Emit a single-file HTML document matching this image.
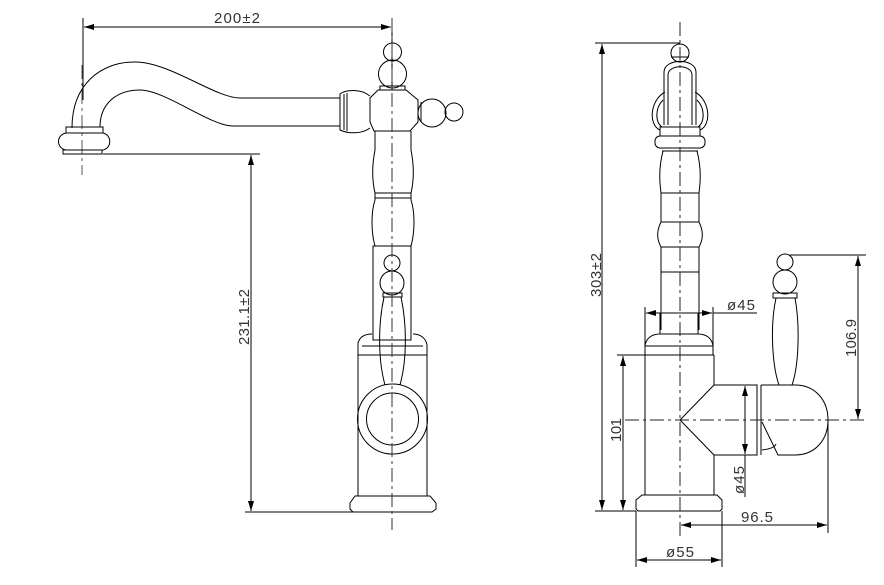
<!DOCTYPE html>
<html><head><style>html,body{margin:0;padding:0;background:#fff}</style></head><body>
<svg width="884" height="580" viewBox="0 0 884 580" xmlns="http://www.w3.org/2000/svg" font-family="Liberation Sans, sans-serif">
<defs>
<marker id="a" viewBox="0 0 10 6" refX="10" refY="3" markerWidth="10" markerHeight="6" orient="auto-start-reverse" markerUnits="userSpaceOnUse"><path d="M0,0 L10,3 L0,6 z" fill="#000"/></marker>
</defs>
<g fill="none" stroke="#000" stroke-width="1">
<line x1="83" y1="18" x2="83" y2="100"/>
<line x1="392" y1="18" x2="392" y2="90"/>
<line x1="84" y1="27" x2="391" y2="27" marker-start="url(#a)" marker-end="url(#a)"/>
<line x1="82" y1="65" x2="82" y2="175" stroke="#555" stroke-dasharray="14,4,3,4"/>
<path d="M72,128 C72,85 100,62 135,62 C170,62 215,98 240,98 L340,98"/>
<path d="M100,127 C100,105 115,90 140,90 C165,90 210,126 233,126 L340,126"/>
<rect x="66" y="127" width="37" height="6"/>
<path d="M66,133 L103,133 C112,135 112,148 103,150 L66,150 C56,148 56,135 66,133 z"/>
<rect x="63" y="150" width="39" height="4"/>
<line x1="103" y1="154" x2="260" y2="154"/>
<line x1="251" y1="155" x2="251" y2="511" marker-start="url(#a)" marker-end="url(#a)"/>
<line x1="245" y1="512" x2="355" y2="512"/>
<circle cx="392.5" cy="52" r="9"/>
<circle cx="392.5" cy="74" r="14"/>
<rect x="380" y="86" width="25" height="4"/>
<path d="M378,90 L406,90 L418,100 L418,122 L410,131 L374,131 L370,122 L370,98 z"/>
<path d="M370,96 C360,88 345,90 340,94 L340,130 C348,134 362,134 370,128"/>
<line x1="344" y1="94" x2="344" y2="130"/><line x1="347" y1="93" x2="347" y2="131"/>
<line x1="418" y1="100" x2="418" y2="122"/><line x1="421" y1="102" x2="421" y2="122"/>
<circle cx="432" cy="113" r="14"/>
<circle cx="454" cy="112" r="9"/>
<path d="M375,131 L375,150 C372,165 372,180 375,193 L375,200 C371,212 371,232 375,246 M411,131 L411,150 C414,165 414,180 411,193 L411,200 C415,212 415,232 411,246"/>
<line x1="375" y1="193" x2="411" y2="193"/><line x1="375" y1="198" x2="411" y2="198"/>
<rect x="373" y="246" width="38" height="94"/>
<circle cx="392" cy="263" r="8"/>
<circle cx="392" cy="283" r="12"/>
<rect x="383" y="293" width="19" height="4"/>
<path d="M384,297 C378,325 378,360 385,385 M401,297 C407,325 407,360 400,385"/>
<path d="M358,355 L358,343 C360,336 366,334 372,334 M413,334 C420,334 426,338 427,345 L427,355"/>
<line x1="362" y1="346" x2="423" y2="346"/>
<rect x="358" y="355" width="69" height="141"/>
<circle cx="392.5" cy="419" r="35"/>
<circle cx="392.5" cy="419" r="26"/>
<path d="M355,496 L430,496 L436,503 L436,509 L432,512 L353,512 L350,509 L350,503 z"/>
<line x1="392" y1="18" x2="392" y2="530" stroke="#333" stroke-dasharray="14,4,3,4"/>
<line x1="595" y1="43" x2="680" y2="43"/>
<line x1="602" y1="44" x2="602" y2="510" marker-start="url(#a)" marker-end="url(#a)"/>
<line x1="595" y1="511" x2="636" y2="511"/>
<circle cx="680" cy="53" r="9"/>
<line x1="671" y1="57" x2="689" y2="57"/>
<path d="M664,125 L664,72 C664,58 696,58 696,72 L696,125"/>
<path d="M668,125 L668,75 C668,64 692,64 692,75 L692,125"/>
<path d="M665,92 C650,100 648,125 660,130 M695,92 C710,100 712,125 700,130"/>
<path d="M663,100 C655,108 655,122 662,127 M697,100 C705,108 705,122 698,127"/>
<rect x="660" y="127" width="40" height="9"/>
<rect x="655" y="136" width="50" height="12" rx="5"/>
<path d="M662,151 L698,151 M663,151 C658,170 660,185 661,193 L661,222 C656,232 657,240 661,247 L661,330 M697,151 C702,170 700,185 699,193 L699,222 C704,232 703,240 699,247 L699,330"/>
<line x1="661" y1="193" x2="699" y2="193"/><line x1="661" y1="222" x2="699" y2="222"/>
<line x1="661" y1="247" x2="699" y2="247"/><line x1="661" y1="272" x2="699" y2="272"/>
<line x1="645" y1="307" x2="645" y2="355"/>
<line x1="713" y1="307" x2="713" y2="355"/>
<line x1="646" y1="313" x2="661" y2="313" marker-start="url(#a)"/>
<line x1="661" y1="313" x2="699" y2="313"/>
<line x1="699" y1="313" x2="712" y2="313" marker-end="url(#a)"/>
<line x1="713" y1="313" x2="757" y2="313"/>
<rect x="660" y="313" width="38" height="21"/>
<path d="M645,355 L645,346 C646,338 652,334 660,334 M698,334 C706,334 712,338 713,346 L713,355"/>
<line x1="645" y1="346" x2="713" y2="346"/>
<line x1="617" y1="355" x2="714" y2="355"/>
<line x1="623" y1="356" x2="623" y2="510" marker-start="url(#a)" marker-end="url(#a)"/>
<line x1="645" y1="355" x2="645" y2="495"/>
<path d="M714,355 L714,385 L757,385 L757,455 L714,455 L714,495"/>
<path d="M714,385 L680,420 L714,455"/>
<line x1="745" y1="386" x2="745" y2="454" marker-start="url(#a)" marker-end="url(#a)"/>
<line x1="745" y1="455" x2="745" y2="497"/>
<path d="M761,385 L761,455 M761,385 L795,385 C815,385 828,400 828,420 C828,440 815,455 795,455 L778,455 L762,422"/>
<path d="M762,450 C770,449 775,447 776,444"/>
<circle cx="785" cy="262" r="8"/>
<circle cx="785" cy="282" r="12"/>
<rect x="773" y="293" width="24" height="5"/>
<path d="M776,298 C770,325 772,365 779,385 M795,298 C800,325 799,365 792,385"/>
<line x1="790" y1="255" x2="866" y2="255"/>
<line x1="858" y1="256" x2="858" y2="419" marker-start="url(#a)" marker-end="url(#a)"/>
<line x1="625" y1="420" x2="866" y2="420" stroke="#222" stroke-dasharray="14,4,3,4"/>
<path d="M642,495 L717,495 L722,500 L722,509 L720,511 L638,511 L636,509 L636,500 z"/>
<line x1="828" y1="420" x2="828" y2="533"/>
<line x1="681" y1="525" x2="827" y2="525" marker-start="url(#a)" marker-end="url(#a)"/>
<line x1="636" y1="511" x2="636" y2="567"/>
<line x1="722" y1="511" x2="722" y2="567"/>
<line x1="637" y1="560" x2="721" y2="560" marker-start="url(#a)" marker-end="url(#a)"/>
<line x1="680" y1="22" x2="680" y2="540" stroke="#222" stroke-dasharray="14,4,3,4"/>
</g>
<g font-size="15" fill="#333" stroke="none">
<text x="237" y="23" text-anchor="middle" textLength="46">200±2</text>
<text transform="translate(249,317) rotate(-90)" text-anchor="middle" textLength="56">231.1±2</text>
<text transform="translate(601,275) rotate(-90)" text-anchor="middle" textLength="44">303±2</text>
<text x="741" y="310" text-anchor="middle" textLength="28">ø45</text>
<text transform="translate(621,430) rotate(-90)" text-anchor="middle" textLength="24">101</text>
<text transform="translate(744,480) rotate(-90)" text-anchor="middle" textLength="28">ø45</text>
<text transform="translate(856,338) rotate(-90)" text-anchor="middle" textLength="38">106.9</text>
<text x="757" y="522" text-anchor="middle" textLength="32">96.5</text>
<text x="680" y="557" text-anchor="middle" textLength="28">ø55</text>
</g>
</svg>
</body></html>
